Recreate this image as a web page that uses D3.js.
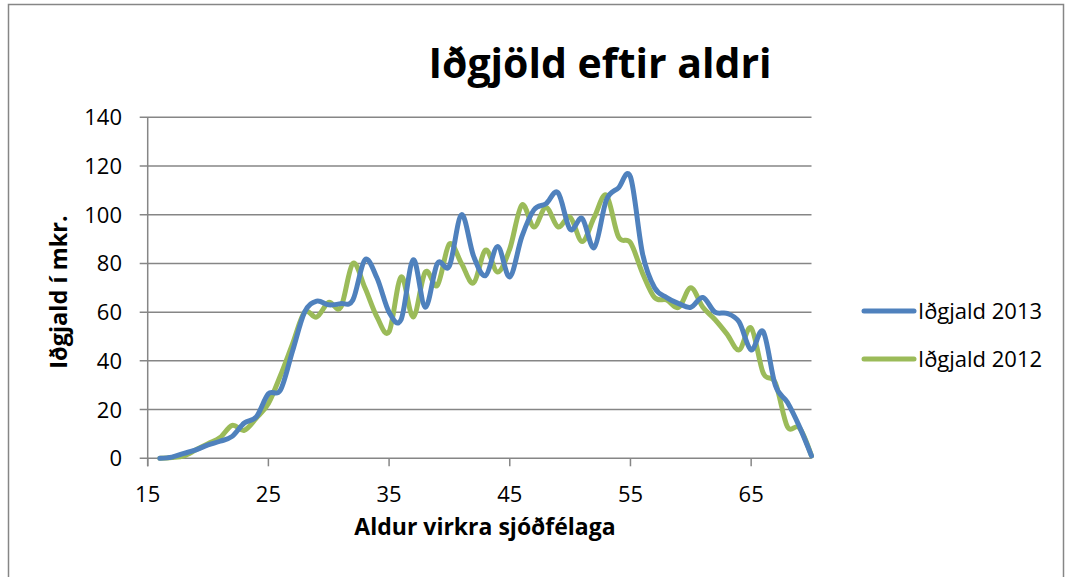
<!DOCTYPE html>
<html lang="is">
<head>
<meta charset="UTF-8">
<title>Iðgjöld eftir aldri</title>
<style>
  body { margin: 0; background: #fff; }
  text { font-family: "Open Sans", Lato, sans-serif; fill: #000; }
</style>
</head>
<body>
<script src="https://cdn.jsdelivr.net/npm/d3@7"></script>
<script>
const width = 1070, height = 577;

// ages 16..70
const ages = d3.range(16, 71);
const idgjald2013 = [0, 0.5, 2, 3.5, 5.5, 7, 9, 14.5, 17, 26.5,
  28, 44, 60, 64.5, 63, 63.5, 65, 81.5, 74, 60,
  57, 81.5, 62, 80, 79, 100, 83, 75, 87, 74.5,
  91, 102, 104.5, 109, 94, 98.5, 86.5, 106, 111, 115.5,
  84, 70, 66, 63.5, 62, 66, 60, 59.5, 56, 44.5,
  52, 30, 23, 13, 1];
const idgjald2012 = [0, 0.3, 1, 3.5, 6, 8.5, 13.5, 11.5, 16.5, 22.5,
  34, 47, 60, 58, 64, 62, 80, 70, 58, 52,
  74.5, 58, 76.5, 71, 88, 80, 72, 85.5, 76.5, 86,
  104, 95, 103, 95, 99, 89, 99, 108, 91, 88.5,
  76, 66, 65, 62, 70, 62, 57, 51, 44.5, 53.5,
  35, 31, 13, 12.5, 1];

const seriesNames = ["Iðgjald 2013", "Iðgjald 2012"];
const seriesColors = ["#4F81BD", "#9BBB59"];
const xTicks = [15, 25, 35, 45, 55, 65];
const yTicks = [0, 20, 40, 60, 80, 100, 120, 140];

const svg = d3.select("body").append("svg")
  .attr("width", width)
  .attr("height", height);

// chart frame
svg.append("rect")
  .attr("x", 8.5).attr("y", 4.5)
  .attr("width", 1055).attr("height", 600)
  .attr("fill", "none")
  .attr("stroke", "#868686")
  .attr("stroke-width", 1.5);

const x = d3.scaleLinear().domain([15, 70]).range([147.7, 811.5]);
const y = d3.scaleLinear().domain([0, 140]).range([458.3, 117.3]);

// gridlines
svg.append("g")
  .selectAll("line")
  .data(yTicks)
  .join("line")
  .attr("x1", x(15) - 8).attr("x2", x(70))
  .attr("y1", d => y(d)).attr("y2", d => y(d))
  .attr("stroke", "#868686")
  .attr("stroke-width", 1.5);

// y axis line
svg.append("line")
  .attr("x1", x(15)).attr("x2", x(15))
  .attr("y1", y(140)).attr("y2", y(0) + 8)
  .attr("stroke", "#868686").attr("stroke-width", 1.5);

// x tick marks
svg.append("g")
  .selectAll("line")
  .data(xTicks)
  .join("line")
  .attr("x1", d => x(d)).attr("x2", d => x(d))
  .attr("y1", y(0)).attr("y2", y(0) + 8)
  .attr("stroke", "#868686").attr("stroke-width", 1.5);

// tick labels
svg.append("g")
  .selectAll("text")
  .data(yTicks)
  .join("text")
  .attr("x", 122).attr("y", d => y(d))
  .attr("dy", "0.36em")
  .attr("text-anchor", "end")
  .style("font-size", "22px")
  .text(d => d);

svg.append("g")
  .selectAll("text")
  .data(xTicks)
  .join("text")
  .attr("x", d => x(d)).attr("y", 502)
  .attr("text-anchor", "middle")
  .style("font-size", "22px")
  .text(d => d);

// lines
const line = d3.line()
  .x((d, i) => x(ages[i]))
  .y(d => y(d))
  .curve(d3.curveCatmullRom.alpha(0));

[idgjald2012, idgjald2013].forEach((vals, k) => {
  const idx = k === 0 ? 1 : 0;
  svg.append("path")
    .datum(vals)
    .attr("d", line)
    .attr("fill", "none")
    .attr("stroke", seriesColors[idx])
    .attr("stroke-width", 5)
    .attr("stroke-linejoin", "round")
    .attr("stroke-linecap", "round");
});

// title
svg.append("text")
  .attr("x", 600).attr("y", 78)
  .attr("text-anchor", "middle")
  .style("font-size", "41px")
  .style("font-weight", "bold")
  .text("Iðgjöld eftir aldri");

// axis titles
svg.append("text")
  .attr("x", 485).attr("y", 535)
  .attr("text-anchor", "middle")
  .style("font-size", "23px")
  .style("font-weight", "bold")
  .text("Aldur virkra sjóðfélaga");

svg.append("text")
  .attr("transform", "translate(67,292) rotate(-90)")
  .attr("text-anchor", "middle")
  .style("font-size", "23.5px")
  .style("font-weight", "bold")
  .text("Iðgjald í mkr.");

// legend
const legend = svg.append("g")
  .selectAll("g")
  .data(seriesNames)
  .join("g")
  .attr("transform", (d, i) => `translate(0,${311 + i * 48})`);

legend.append("line")
  .attr("x1", 864).attr("x2", 914)
  .attr("stroke", (d, i) => seriesColors[i])
  .attr("stroke-width", 5)
  .attr("stroke-linecap", "round");

legend.append("text")
  .attr("x", 918).attr("dy", "0.36em")
  .style("font-size", "22px")
  .text(d => d);
</script>
</body>
</html>
